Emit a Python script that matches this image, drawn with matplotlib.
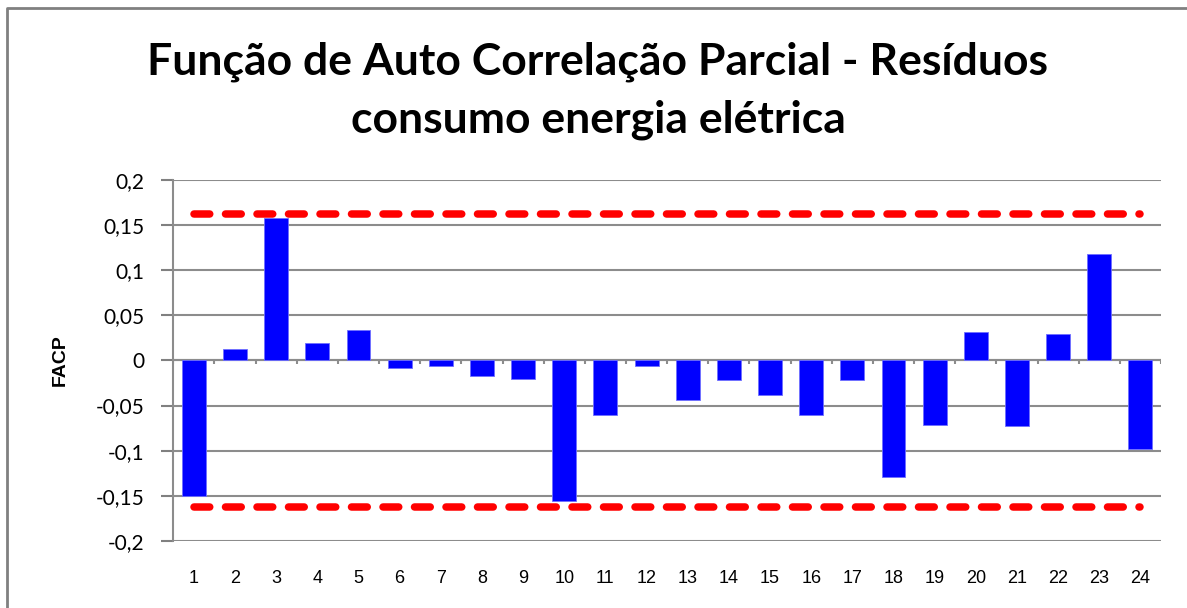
import matplotlib
matplotlib.use("Agg")
import matplotlib.pyplot as plt
from matplotlib.lines import Line2D
import numpy as np

# lags and partial autocorrelation of residuals
lags = list(range(1, 25))
facp = [-0.150, 0.013, 0.158, 0.019, 0.034, -0.009, -0.006, -0.017,
        -0.021, -0.156, -0.060, -0.006, -0.044, -0.022, -0.038, -0.061,
        -0.022, -0.129, -0.072, 0.031, -0.073, 0.029, 0.118, -0.098]
limite = 0.162  # confidence band
yticks = [0.2, 0.15, 0.1, 0.05, 0, -0.05, -0.1, -0.15, -0.2]
ytick_labels = ["0,2", "0,15", "0,1", "0,05", "0", "-0,05", "-0,1", "-0,15", "-0,2"]

W, H = 1187, 608
fig = plt.figure(figsize=(W / 100, H / 100), dpi=100)
fig.patch.set_facecolor("white")

# outer chart border (Excel style), only left and top visible in the crop
fig.add_artist(Line2D([6.5 / W, 6.5 / W, 1.1], [-0.1, 1 - 8 / H, 1 - 8 / H],
                      transform=fig.transFigure, color="#808080", linewidth=2))

ax = fig.add_axes([173.3 / W, 1 - 541 / H, (1161 - 173.3) / W, (541 - 179.7) / H])
x = np.arange(len(lags))
ax.bar(x, facp, width=0.58, color="#0000FF", edgecolor="#6f6fff", linewidth=0.6, zorder=3)

ax.plot([x[0], x[-1]], [limite, limite], color="#FF0000", lw=5.4,
        dashes=(2.1, 2.1), dash_capstyle="round", zorder=4)
ax.plot([x[0], x[-1]], [-limite, -limite], color="#FF0000", lw=5.4,
        dashes=(2.1, 2.1), dash_capstyle="round", zorder=4)

ax.set_xlim(-0.5, len(lags) - 0.5)
ax.set_ylim(-0.2, 0.2)
ax.set_yticks(yticks)
ax.set_yticklabels(ytick_labels, fontsize=15, family="Lato")
ax.set_xticks(x)
ax.set_xticklabels([str(l) for l in lags], fontsize=13, family="Liberation Sans")
ax.tick_params(axis="x", length=0, pad=21)
ax.tick_params(axis="y", length=9, width=1.5, color="#808080", pad=12)
ax.grid(axis="y", color="#8c8c8c", linewidth=1.5, zorder=0)
for s in ["top", "right", "bottom"]:
    ax.spines[s].set_visible(False)
ax.spines["left"].set_color("#8c8c8c")
ax.spines["left"].set_linewidth(1.5)

# horizontal axis at zero with category boundary ticks
ax.axhline(0, color="#8c8c8c", linewidth=1.5, zorder=2)
bounds = np.arange(len(lags) + 1) - 0.5
ax.vlines(bounds, -0.0045, 0, color="#8c8c8c", linewidth=1.5, zorder=2)

ax.set_ylabel("FACP", fontsize=14, fontweight="bold", family="Liberation Sans")
ax.yaxis.set_label_coords(-0.106, 0.5)

fig.text(598 / W, 1 - 62 / H, "Função de Auto Correlação Parcial - Resíduos",
         ha="center", va="center", fontsize=32, fontweight="bold", family="Lato")
fig.text(598 / W, 1 - 120 / H, "consumo energia elétrica",
         ha="center", va="center", fontsize=32, fontweight="bold", family="Lato")

fig.savefig("out.png", dpi=100, facecolor="white")
